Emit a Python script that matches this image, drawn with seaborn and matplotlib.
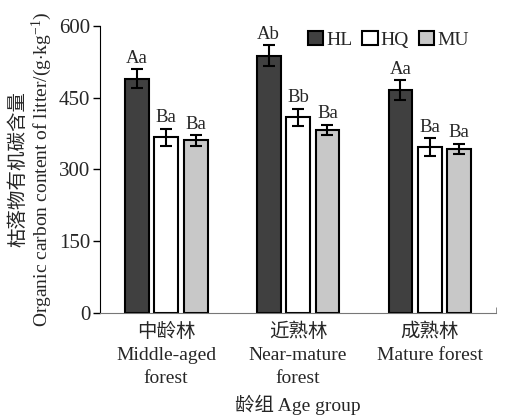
import numpy as np
import pandas as pd
import matplotlib
matplotlib.use("Agg")
import matplotlib.pyplot as plt
import seaborn as sns

# data
ages = ["中龄林\nMiddle-aged\nforest", "近熟林\nNear-mature\nforest", "成熟林\nMature forest"]
types = ["HL", "HQ", "MU"]
hl_mean = [490, 538, 466]
hq_mean = [367, 409, 347]
mu_mean = [361, 383, 343]
hl_err = [20, 22, 21]
hq_err = [18, 18, 19]
mu_err = [11, 11, 11]
hl_sig = ["Aa", "Ab", "Aa"]
hq_sig = ["Ba", "Bb", "Ba"]
mu_sig = ["Ba", "Ba", "Ba"]
colors = ["#404040", "#ffffff", "#c8c8c8"]

df = pd.DataFrame({
    "age": ages * 3,
    "type": [t for t in types for _ in ages],
    "value": hl_mean + hq_mean + mu_mean,
})
means = [hl_mean, hq_mean, mu_mean]
errs = [hl_err, hq_err, mu_err]
sigs = [hl_sig, hq_sig, mu_sig]

sns.set_style("ticks")
plt.rcParams["font.family"] = ["Liberation Serif", "Noto Sans CJK SC"]
plt.rcParams["mathtext.fontset"] = "custom"
plt.rcParams["mathtext.rm"] = "Liberation Serif"
plt.rcParams["mathtext.it"] = "Liberation Serif:italic"

fig = plt.figure(figsize=(5.06, 4.16), dpi=100)
ax = fig.add_axes([0.198, 0.2476, 0.782, 0.69])

sns.barplot(data=df, x="age", y="value", hue="type", palette=colors,
            width=0.67, gap=0.19, edgecolor="black", linewidth=1.5,
            errorbar=None, ax=ax)

for cont, m, e, s in zip(ax.containers, means, errs, sigs):
    xs = [b.get_x() + b.get_width() / 2 for b in cont]
    ax.errorbar(xs, m, yerr=e, fmt="none", ecolor="black", elinewidth=1.5,
                capsize=4.5, capthick=1.5)
    for x, v, err, lab in zip(xs, m, e, s):
        ax.text(x, v + err + 5, lab, ha="center", va="bottom", fontsize=13.5)

ax.set_xlim(-0.5, 2.5)
ax.set_ylim(0, 600)
ax.set_yticks([0, 150, 300, 450, 600])
ax.tick_params(axis="y", labelsize=15, length=5, width=1, color="black", pad=2)
ax.tick_params(axis="x", labelsize=14, length=0, pad=7)
ax.set_xticks([2.5], minor=True)
ax.tick_params(axis="x", which="minor", direction="in", length=4, color="#777777")
for lab in ax.get_xticklabels():
    lab.set_linespacing(1.45)
sns.despine(ax=ax)
ax.spines["left"].set_color("black")
ax.spines["bottom"].set_color("#777777")

ax.set_xlabel("龄组 Age group", fontsize=14, labelpad=6)
ax.set_ylabel(r"Organic carbon content of litter/(g$\cdot$kg$^{-1}$)", fontsize=14, labelpad=4)
fig.text(0.036, 0.5926, "枯落物有机碳含量", rotation=90, ha="center", va="center", fontsize=14)

sns.move_legend(ax, "upper right", ncol=3, frameon=False, title=None,
                bbox_to_anchor=(0.975, 1.045), handlelength=0.8, handleheight=0.8,
                handletextpad=0.15, columnspacing=0.5, fontsize=14)

fig.savefig("out.png", dpi=100)
